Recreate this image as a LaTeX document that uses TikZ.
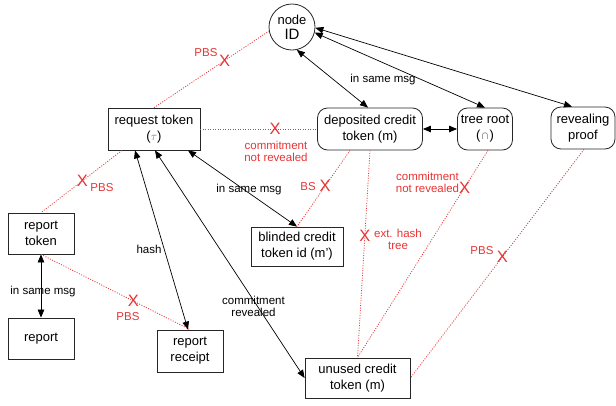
\documentclass[tikz,border=0pt]{standalone}
\usepackage{fontspec}
\setmainfont{Liberation Sans}
\usetikzlibrary{arrows.meta}
\definecolor{rd}{RGB}{232,52,52}
\definecolor{gr}{RGB}{115,115,115}
\begin{document}
\begin{tikzpicture}[x=1pt,y=-1pt,
  box/.style={draw=black!85, line width=0.8pt, align=center, font=\fontsize{13}{16}\selectfont, inner sep=0pt, minimum height=42pt},
  rbox/.style={box, rounded corners=10pt},
  conn/.style={line width=0.7pt, {Triangle[length=8pt,width=6.5pt]}-{Triangle[length=8pt,width=6.5pt]}},
  rdot/.style={draw=rd, line width=0.8pt, dash pattern=on 1pt off 1.5pt},
  xm/.style={text=rd, font=\fontsize{16.5}{16.5}\selectfont, inner sep=0pt},
  rl/.style={text=rd, font=\fontsize{11.5}{12}\selectfont, align=center, inner sep=0pt},
  bl/.style={text=black, font=\fontsize{11.5}{12}\selectfont, align=center, inner sep=0pt},
]
\useasboundingbox (0,0) rectangle (616,405);

% nodes
\node[draw=black!85, circle, minimum size=46pt, inner sep=0pt, line width=0.8pt, align=center, font=\fontsize{13}{15}\selectfont] (nid) at (292,27) {node\\{\fontsize{15}{15}\selectfont ID}};
\node[box, minimum width=92pt] (req) at (154,129) {request token\\({\color{gr}$\tau$})};
\node[rbox, minimum width=105pt] (dep) at (370,129) {deposited credit\\token (m)};
\node[rbox, minimum width=55pt] (tree) at (485,129) {tree root\\({\color{gr}∩})};
\node[rbox, minimum width=64pt] (rev) at (583,128) {revealing\\proof};
\node[box, minimum width=66pt, minimum height=41pt] (rt) at (41,233.5) {report\\token};
\node[box, minimum width=66pt, minimum height=41pt] (rep) at (41,338.5) {report};
\node[box, minimum width=66pt] (rec) at (190,351) {report\\receipt};
\node[box, minimum width=92pt, minimum height=39pt] (bl) at (297,246.5) {blinded credit\\token id (m')};
\node[box, minimum width=105pt, minimum height=40pt] (un) at (357.5,378) {unused credit\\token (m)};

% black connectors
\draw[conn] (nid.-78) -- ([xshift=-2pt]dep.north);
\draw[conn] (nid.-14) -- (tree.north);
\draw[conn] (nid.-2) -- ([xshift=-11pt]rev.north);
\draw[conn] (dep.east) -- (tree.west);
\draw[conn] ([xshift=34pt]req.south) -- (bl.north);
\draw[conn] ([xshift=-19pt]req.south) -- ([xshift=-2pt]rec.north);
\draw[conn] ([xshift=1pt]req.south) -- (un.west);
\draw[conn] (rt.south) -- (rep.north);

% red dotted connectors
\draw[rdot] (req.north) -- node[pos=.615, xm] (x1) {X} (nid.190);
\draw[rdot] (req.east) -- node[pos=.64, xm] (x2) {X} (dep.west);
\draw[rdot] ([xshift=-32pt]req.south) -- node[pos=.49, xm] (x3) {X} (rt.north);
\draw[rdot] (rt.south) -- node[pos=.62, xm] (x4) {X} (rec.north);
\draw[rdot] ([xshift=-20pt]dep.south) -- node[pos=.47, xm] (x5) {X} (bl.north);
\draw[rdot] (dep.south) -- node[pos=.41, xm] (x6) {X} (un.north);
\draw[rdot] ([xshift=3pt]tree.south) -- node[pos=.18, xm] (x7) {X} (un.north);
\draw[rdot] ([xshift=1pt]rev.south) -- node[pos=.47, xm] (x8) {X} (un.east);

% red labels
\node[rl] (l1) at (206,53) {PBS};
\node[rl] (l2) at (276,151.5) {commitment\\not revealed};
\node[rl] (l3) at (102,188) {PBS};
\node[rl] (l4) at (128,317) {PBS};
\node[rl] (l5) at (308,187) {BS};
\node[rl] (l6) at (398,239.5) {ext. hash\\tree};
\node[rl] (l7) at (427.5,182.5) {commitment\\not revealed};
\node[rl] (l8) at (482,251) {PBS};

% black labels
\node[bl] (b1) at (383,80) {in same msg};
\node[bl] (b2) at (249,190) {in same msg};
\node[bl] (b3) at (149,249) {hash};
\node[bl] (b4) at (43,292) {in same msg};
\node[bl] (b5) at (253.5,306) {commitment\\revealed};
\end{tikzpicture}
\end{document}
